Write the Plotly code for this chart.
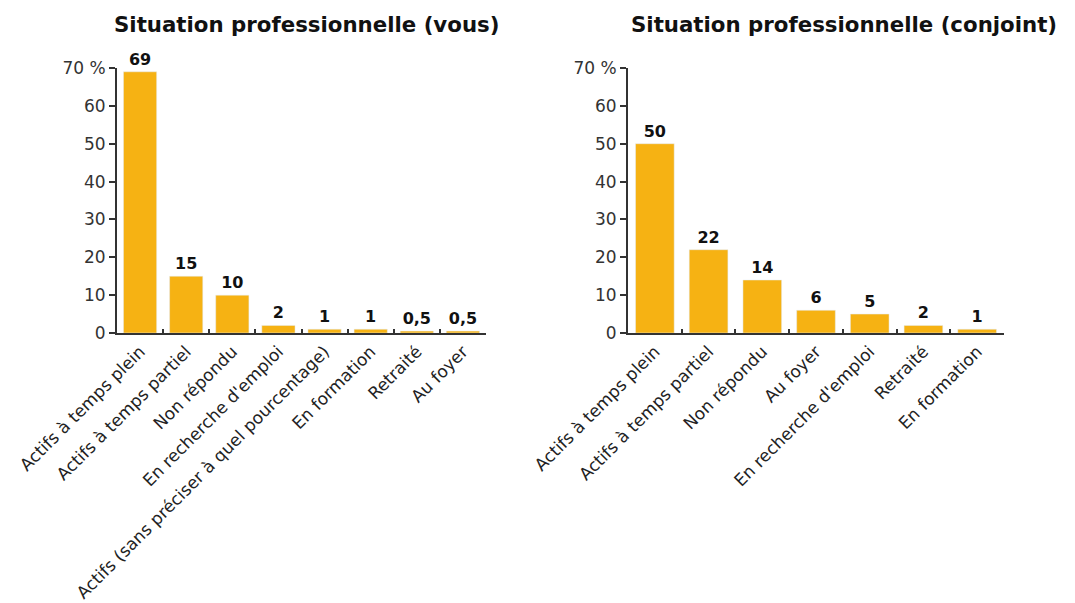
import plotly.graph_objects as go

cats_vous = ["Actifs à temps plein", "Actifs à temps partiel", "Non répondu",
             "En recherche d'emploi", "Actifs (sans préciser à quel pourcentage)",
             "En formation", "Retraité", "Au foyer"]
vals_vous = [69, 15, 10, 2, 1, 1, 0.5, 0.5]
text_vous = ["69", "15", "10", "2", "1", "1", "0,5", "0,5"]

cats_conj = ["Actifs à temps plein", "Actifs à temps partiel", "Non répondu",
             "Au foyer", "En recherche d'emploi", "Retraité", "En formation"]
vals_conj = [50, 22, 14, 6, 5, 2, 1]
text_conj = ["50", "22", "14", "6", "5", "2", "1"]

y_tickvals = [0, 10, 20, 30, 40, 50, 60, 70]
y_ticktext = ["0", "10", "20", "30", "40", "50", "60", "70 %"]

titles = ["Situation professionnelle (vous)", "Situation professionnelle (conjoint)"]

BAR = "#F6B213"
AX = "#333333"
FONT = "Verdana, DejaVu Sans, sans-serif"
W, H = 1075, 603
OFF = 8  # page body offset

fig = go.Figure()
fig.add_trace(go.Bar(x=cats_vous, y=vals_vous, text=text_vous, textposition="outside",
                     marker_color=BAR, cliponaxis=False, xaxis="x", yaxis="y",
                     textfont=dict(family=FONT, size=16, color="#111", weight="bold"),
                     showlegend=False))
fig.add_trace(go.Bar(x=cats_conj, y=vals_conj, text=text_conj, textposition="outside",
                     marker_color=BAR, cliponaxis=False, xaxis="x2", yaxis="y2",
                     textfont=dict(family=FONT, size=16, color="#111", weight="bold"),
                     showlegend=False))

ydom = [(H - (333 - OFF)) / H, (H - (68 - OFF)) / H]
xdom1 = [(117 - OFF) / W, (486 - OFF) / W]
xdom2 = [(628 - OFF) / W, (1004 - OFF) / W]

xcommon = dict(type="category", showline=True, linecolor=AX, linewidth=2,
               ticks="inside", tickson="boundaries", ticklen=4, tickcolor=AX, tickwidth=1.5,
               tickangle=-45, tickfont=dict(family=FONT, size=17, color="#222"),
               showgrid=False, automargin=False, zeroline=False)
ycommon = dict(range=[0, 70], tickvals=y_tickvals, ticktext=y_ticktext,
               showline=True, linecolor=AX, linewidth=2, ticks="outside", ticklen=6,
               tickcolor=AX, tickwidth=1.5, tickfont=dict(family=FONT, size=17, color="#333"),
               showgrid=False, zeroline=False, automargin=False)

fig.update_layout(
    width=W, height=H, margin=dict(l=0, r=0, t=0, b=0),
    paper_bgcolor="white", plot_bgcolor="white", bargap=0.28,
    xaxis=dict(domain=xdom1, anchor="y", **xcommon),
    yaxis=dict(domain=ydom, anchor="x", **ycommon),
    xaxis2=dict(domain=xdom2, anchor="y2", **xcommon),
    yaxis2=dict(domain=ydom, anchor="x2", **ycommon),
    annotations=[
        dict(text="<b>" + titles[0] + "</b>", x=(306 - OFF) / W, y=1 - (25 - OFF) / H,
             xref="paper", yref="paper", showarrow=False,
             font=dict(family=FONT, size=21.3, color="#111"), xanchor="center", yanchor="middle"),
        dict(text="<b>" + titles[1] + "</b>", x=(844 - OFF) / W, y=1 - (25 - OFF) / H,
             xref="paper", yref="paper", showarrow=False,
             font=dict(family=FONT, size=21.3, color="#111"), xanchor="center", yanchor="middle"),
    ],
)

fig.write_html("out.html")
